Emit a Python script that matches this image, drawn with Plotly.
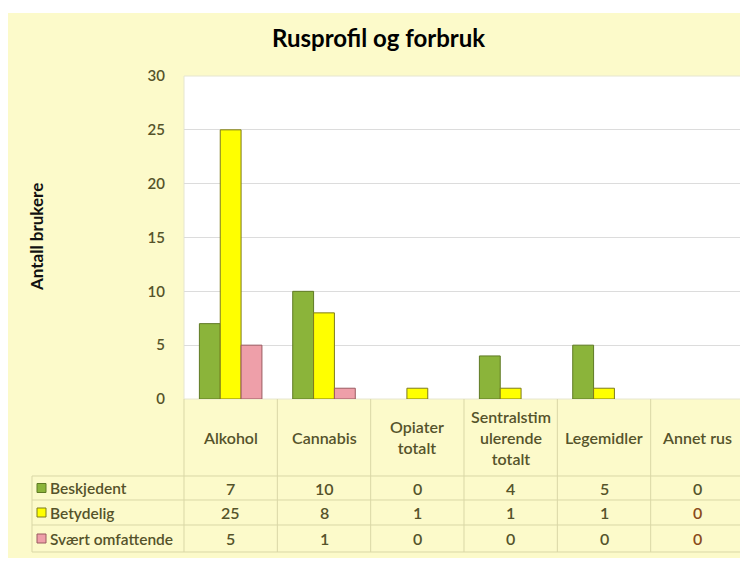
import plotly.graph_objects as go

categories = ["Alkohol", "Cannabis", "Opiater totalt", "Sentralstimulerende totalt", "Legemidler", "Annet rus"]
category_labels = ["Alkohol", "Cannabis", "Opiater<br>totalt", "Sentralstim<br>ulerende<br>totalt", "Legemidler", "Annet rus"]
series_names = ["Beskjedent", "Betydelig", "Svært omfattende"]
beskjedent = [7, 10, 0, 4, 5, 0]
betydelig = [25, 8, 1, 1, 1, 0]
svaert_omfattende = [5, 1, 0, 0, 0, 0]
series_values = [beskjedent, betydelig, svaert_omfattende]
y_ticks = [0, 5, 10, 15, 20, 25, 30]

colors = ["#8bb43a", "#ffff00", "#ee9fa9"]
edge_colors = ["#5f7a24", "#7d7a1e", "#9a5a60"]

# page body has an 8px margin; work in page pixels and convert
OFF = 8
W, H = 740, 554
L, R, T, B = 184, 744, 76, 399  # plot area in page pixels


def px(x):
    return (x - L) / (R - L)


def py(y):
    return (B - y) / (B - T)


fig = go.Figure()
for name, vals, c, ec in zip(series_names, series_values, colors, edge_colors):
    fig.add_trace(go.Bar(
        x=categories, y=[v if v else None for v in vals], name=name,
        marker=dict(color=c, line=dict(color=ec, width=1)),
        hoverinfo="x+y+name",
    ))

shapes = []
# outer yellow background
shapes.append(dict(type="rect", xref="paper", yref="paper", x0=px(8), x1=px(746), y0=py(13), y1=py(558),
                   fillcolor="#fcfaca", line=dict(width=0), layer="below"))
# white plot area
shapes.append(dict(type="rect", xref="paper", yref="paper", x0=0, x1=1, y0=0, y1=1,
                   fillcolor="#ffffff", line=dict(color="#e6e6d0", width=1), layer="below"))

line_col = "#d9d7a6"
col_edges = [L + i * (R - L) / 6 for i in range(7)]
row_edges = [476, 500, 525, 552]
for xe in col_edges:
    shapes.append(dict(type="line", xref="paper", yref="paper", x0=px(xe), x1=px(xe), y0=py(399), y1=py(552),
                       line=dict(color=line_col, width=1)))
shapes.append(dict(type="line", xref="paper", yref="paper", x0=px(32), x1=px(32), y0=py(476), y1=py(552),
                   line=dict(color=line_col, width=1)))
for ye in row_edges:
    shapes.append(dict(type="line", xref="paper", yref="paper", x0=px(32), x1=px(744), y0=py(ye), y1=py(ye),
                       line=dict(color=line_col, width=1)))

txt_col = "#55532a"
font_main = "Lato, Open Sans, sans-serif"
annotations = []
for i, lab in enumerate(category_labels):
    xc = (col_edges[i] + col_edges[i + 1]) / 2
    annotations.append(dict(x=px(xc), y=py(437), xref="paper", yref="paper", text=lab, showarrow=False,
                            xanchor="center", yanchor="middle",
                            font=dict(family=font_main, size=16, color=txt_col, weight=600)))
row_centers = [(row_edges[j] + row_edges[j + 1]) / 2 for j in range(3)]
for j, (name, vals) in enumerate(zip(series_names, series_values)):
    yc = row_centers[j]
    shapes.append(dict(type="rect", xref="paper", yref="paper", x0=px(37), x1=px(46), y0=py(yc + 4.5), y1=py(yc - 4.5),
                       fillcolor=colors[j], line=dict(color=edge_colors[j], width=1)))
    annotations.append(dict(x=px(48), y=py(yc), xref="paper", yref="paper", text=name, showarrow=False,
                            xanchor="left", yanchor="middle",
                            font=dict(family=font_main, size=15.5, color=txt_col, weight=600)))
    for i, v in enumerate(vals):
        xc = (col_edges[i] + col_edges[i + 1]) / 2
        col = "#8a4a1a" if (i == 5 and j > 0) else txt_col
        annotations.append(dict(x=px(xc), y=py(yc), xref="paper", yref="paper", text=str(v), showarrow=False,
                                xanchor="center", yanchor="middle",
                                font=dict(family=font_main, size=16, color=col, weight=600)))

annotations.append(dict(x=px(378), y=py(38), xref="paper", yref="paper", text="<b>Rusprofil og forbruk</b>",
                        showarrow=False, xanchor="center", yanchor="middle",
                        font=dict(family=font_main, size=24, color="#000000")))
annotations.append(dict(x=px(36), y=py(237), xref="paper", yref="paper", text="<b>Antall brukere</b>",
                        showarrow=False, textangle=-90, xanchor="center", yanchor="middle",
                        font=dict(family=font_main, size=17, color="#111111")))

fig.update_layout(
    width=W, height=H,
    margin=dict(l=L - OFF, r=(W + OFF) - R, t=T - OFF, b=(H + OFF) - B, pad=0),
    paper_bgcolor="#ffffff",
    plot_bgcolor="rgba(0,0,0,0)",
    barmode="group", bargap=0.33, bargroupgap=0,
    showlegend=False,
    shapes=shapes,
    annotations=annotations,
    xaxis=dict(showticklabels=False, showgrid=False, zeroline=False, showline=False, fixedrange=True),
    yaxis=dict(range=[0, 30], tickvals=y_ticks, showgrid=True, gridcolor="#dcdcdc", gridwidth=1,
               zeroline=False, showline=False, ticklabelstandoff=18,
               tickfont=dict(family=font_main, size=15, color=txt_col, weight=600), fixedrange=True),
)

fig.write_html("out.html")
